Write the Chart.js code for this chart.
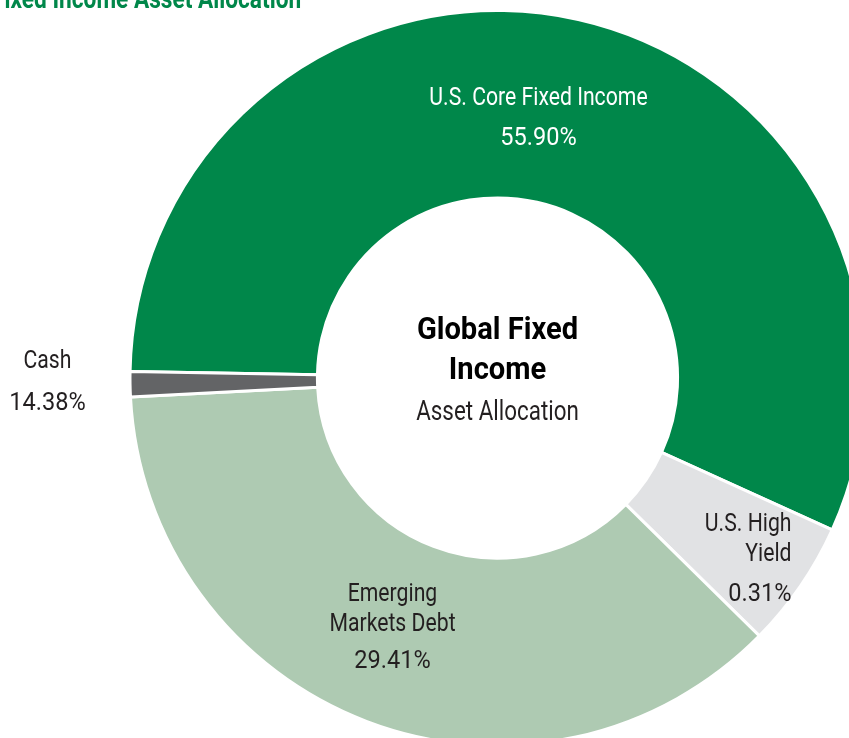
<!DOCTYPE html>
<html>
<head>
<meta charset="utf-8">
<script src="https://cdn.jsdelivr.net/npm/chart.js@4.4.1/dist/chart.umd.min.js"></script>
<style>
  html, body { margin: 0; padding: 0; background: #fff; overflow: hidden; }
  body { width: 849px; height: 738px; position: relative; }
  #wrap { position: absolute; left: 0; top: 0; }
</style>
</head>
<body>
<div id="wrap"><canvas id="allocation-chart" width="880" height="760"></canvas></div>
<script>
"use strict";

// data ---------------------------------------
const chartTitle = "Fixed Income Asset Allocation";
const centerLines = ["Global Fixed", "Income", "Asset Allocation"];
const labelLines = [
  ["U.S. Core Fixed Income"],
  ["U.S. High", "Yield"],
  ["Emerging", "Markets Debt"],
  ["Cash"],
];
const categories = labelLines.map((l) => l.join(" "));
// slice sizes as drawn (read from the arcs)
const sliceValues = [56.5, 5.6, 36.8, 1.1];
// percentages printed on the chart
const labelPercents = ["55.90%", "0.31%", "29.41%", "14.38%"];

const sliceColors = ["#00874a", "#e1e2e4", "#aecab2", "#636466"];
const FONT = "Roboto, 'Liberation Sans', sans-serif";

// draw a line of text squeezed horizontally (looks like a condensed face)
function squeezedText(ctx, text, x, y, size, weight, color, align, squeeze) {
  ctx.save();
  ctx.font = weight + " " + size + "px " + FONT;
  ctx.fillStyle = color;
  ctx.textBaseline = "alphabetic";
  ctx.textAlign = align;
  ctx.translate(x, y);
  ctx.scale(squeeze, 1);
  ctx.fillText(text, 0, 0);
  ctx.restore();
}

// label placement relative to chart centre
const labelPlace = [
  { dx: 41, dy: -273, gap: 40, pctGap: 40, align: "center", color: "#ffffff" },
  { dx: 294, dy: 153, gap: 30, pctGap: 40, align: "right", color: "#231f20" },
  { dx: -105, dy: 223, gap: 30, pctGap: 37, align: "center", color: "#231f20" },
  { dx: -450, dy: -10, gap: 42, pctGap: 42, align: "center", color: "#231f20" },
];

const textPlugin = {
  id: "allocationText",
  afterDraw(chart) {
    const ctx = chart.ctx;
    const meta = chart.getDatasetMeta(0);
    const cx = meta.data[0].x;
    const cy = meta.data[0].y;

    // title (runs off the top-left edge)
    squeezedText(ctx, chartTitle, -8, 8, 28, "bold", "#00874a", "left", 0.81);

    // centre text
    squeezedText(ctx, centerLines[0], cx, cy - 39, 32, "bold", "#000000", "center", 0.91);
    squeezedText(ctx, centerLines[1], cx, cy + 1, 32, "bold", "#000000", "center", 0.91);
    squeezedText(ctx, centerLines[2], cx, cy + 42, 28, "normal", "#231f20", "center", 0.8);

    // slice labels
    labelLines.forEach((lines, i) => {
      const p = labelPlace[i];
      let y = cy + p.dy;
      lines.forEach((line, j) => {
        if (j > 0) y += p.gap;
        squeezedText(ctx, line, cx + p.dx, y, 26.5, "normal", p.color, p.align, 0.8);
      });
      y += p.pctGap;
      squeezedText(ctx, labelPercents[i], cx + p.dx, y, 26.5, "normal", p.color, p.align, 0.89);
    });
  },
};

new Chart(document.getElementById("allocation-chart"), {
  type: "doughnut",
  data: {
    labels: categories,
    datasets: [
      {
        data: sliceValues,
        backgroundColor: sliceColors,
        borderColor: "#ffffff",
        borderWidth: 3,
      },
    ],
  },
  options: {
    responsive: false,
    animation: false,
    events: [],
    rotation: -89,
    cutout: "49%",
    layout: {
      padding: { left: 128, top: 9, right: 13, bottom: 13 },
    },
    plugins: {
      legend: { display: false },
      tooltip: { enabled: false },
    },
  },
  plugins: [textPlugin],
});
</script>
</body>
</html>
